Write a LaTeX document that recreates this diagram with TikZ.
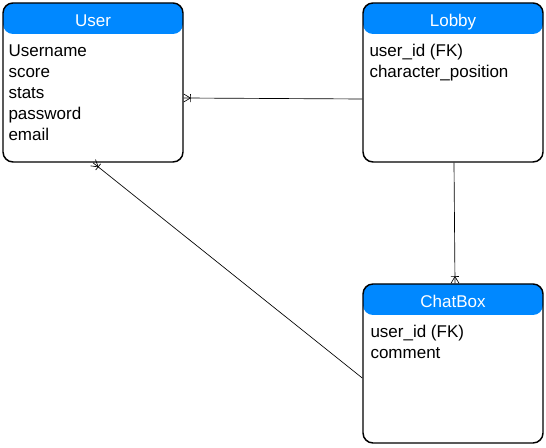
\documentclass[tikz,border=0pt]{standalone}
\usepackage{fontspec}
\setmainfont{Liberation Sans}
\usetikzlibrary{calc}

\definecolor{headblue}{RGB}{0,136,255}

% one-or-many crow's foot at the entity end #1, line coming from #2
\newcommand{\crowfoot}[2]{%
  \coordinate (cfapex) at ($(#1)!5pt!(#2)$);
  \draw[relation] ($(#1)!3pt!90:(#2)$) -- (cfapex) -- ($(#1)!3pt!-90:(#2)$);
  \draw[relation] ($(cfapex)!3pt!90:(#2)$) -- ($(cfapex)!3pt!-90:(#2)$);
}

\tikzset{
  entity/.style={draw, line width=1.1pt, rounded corners=7.5pt,
    minimum width=135pt, minimum height=119.25pt, inner sep=0pt,
    path picture={\fill[headblue] (path picture bounding box.north west)
      rectangle ([yshift=-23.25pt]path picture bounding box.north east);}},
  title/.style={text=white, anchor=base, inner sep=0pt,
    font=\fontsize{12.75}{15}\selectfont},
  attrs/.style={align=left, anchor=north west, inner sep=0pt,
    font=\fontsize{12.75}{15.75}\selectfont},
  relation/.style={line width=0.5pt},
}

\begin{document}
\begin{tikzpicture}[x=0.75pt,y=-0.75pt]
    \useasboundingbox (0,0) rectangle (546,448);

    % Entities
    \node[entity] (user) at (93,82.5) {};
    \node[entity] (lobby) at (453,82.5) {};
    \node[entity] (chatbox) at (453,363.5) {};

    % Titles
    \node[title] (usert) at ($(user.north)+(0,24)$) {User};
    \node[title] (lobbyt) at ($(lobby.north)+(0,24)$) {Lobby};
    \node[title] (chatboxt) at ($(chatbox.north)+(0,24)$) {ChatBox};

    % Attributes
    \node[attrs] (usera) at ($(user.north west)+(6,42)$)
        {Username\\score\\stats\\password\\email};
    \node[attrs] (lobbya) at ($(lobby.north west)+(7,42)$)
        {user\_id (FK)\\character\_position};
    \node[attrs] (chatboxa) at ($(chatbox.north west)+(8,42)$)
        {user\_id (FK)\\comment};

    % Relations
    \coordinate (lu1) at ($(lobby.west)+(0,16.5)$);
    \coordinate (lu2) at ($(user.east)+(0,15.5)$);
    \draw[relation] (lu1) -- (lu2);
    \crowfoot{lu2}{lu1}

    \coordinate (lc1) at ($(lobby.south)+(1,0)$);
    \coordinate (lc2) at ($(chatbox.north)+(2,0)$);
    \draw[relation] (lc1) -- (lc2);
    \crowfoot{lc2}{lc1}

    \coordinate (cu1) at ($(chatbox.west)+(0,14.5)$);
    \coordinate (cu2) at ($(user.south)+(0,0)$);
    \draw[relation] (cu1) -- (cu2);
    \crowfoot{cu2}{cu1}
\end{tikzpicture}
\end{document}
